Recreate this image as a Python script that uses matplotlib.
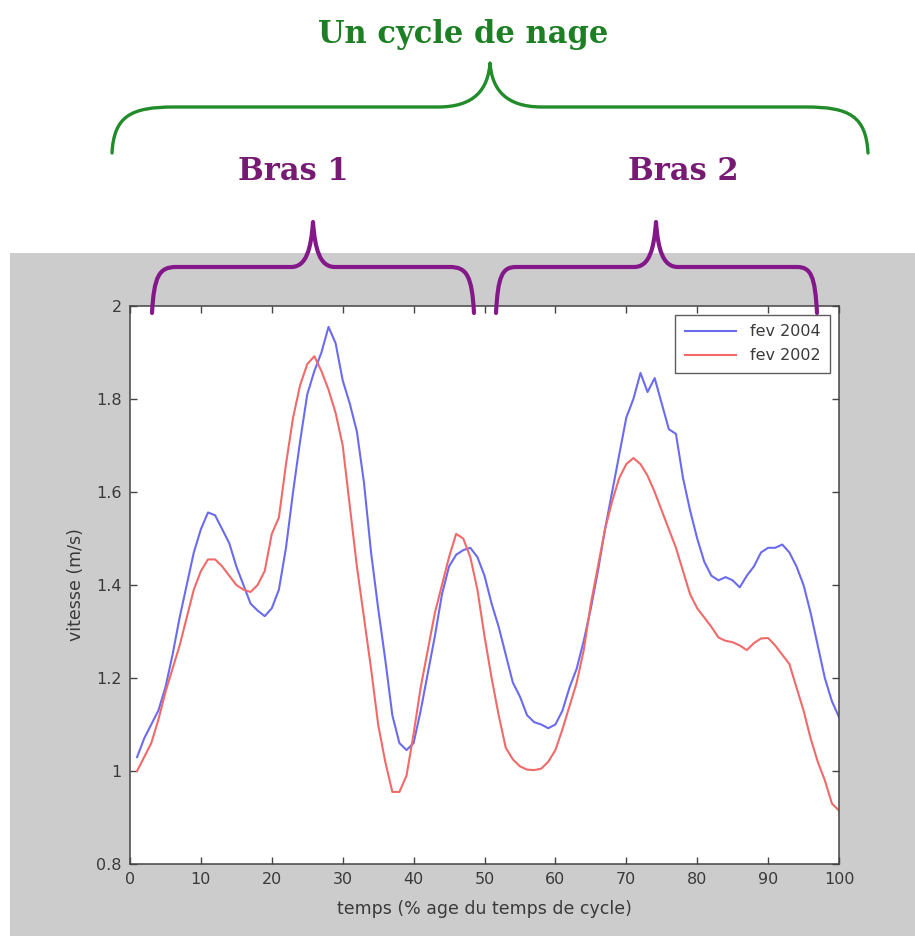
import numpy as np
import matplotlib
matplotlib.use("Agg")
import matplotlib.pyplot as plt
from matplotlib.path import Path
from matplotlib.patches import PathPatch, Rectangle

# Swim speed over one stroke cycle (% of cycle time)
t_2004 = list(range(1, 101))
v_2004 = [1.03, 1.07, 1.10, 1.13, 1.18, 1.25, 1.33, 1.40, 1.47, 1.52,
          1.556, 1.55, 1.52, 1.49, 1.44, 1.40, 1.36, 1.345, 1.333, 1.35,
          1.39, 1.48, 1.60, 1.71, 1.81, 1.86, 1.90, 1.955, 1.92, 1.84,
          1.79, 1.73, 1.62, 1.47, 1.35, 1.24, 1.12, 1.06, 1.045, 1.06,
          1.13, 1.21, 1.29, 1.38, 1.44, 1.465, 1.475, 1.48, 1.46, 1.42,
          1.36, 1.31, 1.25, 1.19, 1.16, 1.12, 1.105, 1.10, 1.092, 1.10,
          1.13, 1.18, 1.22, 1.28, 1.35, 1.43, 1.52, 1.60, 1.68, 1.76,
          1.80, 1.856, 1.815, 1.845, 1.79, 1.735, 1.725, 1.63, 1.56, 1.50,
          1.45, 1.42, 1.41, 1.417, 1.41, 1.395, 1.42, 1.44, 1.47, 1.48,
          1.48, 1.487, 1.47, 1.44, 1.40, 1.34, 1.27, 1.20, 1.15, 1.116]

t_2002 = list(range(1, 101))
v_2002 = [1.00, 1.03, 1.06, 1.11, 1.17, 1.22, 1.27, 1.33, 1.39, 1.43,
          1.455, 1.455, 1.44, 1.42, 1.40, 1.39, 1.385, 1.40, 1.43, 1.51,
          1.545, 1.66, 1.76, 1.83, 1.875, 1.892, 1.86, 1.82, 1.77, 1.70,
          1.57, 1.44, 1.33, 1.22, 1.10, 1.02, 0.955, 0.955, 0.99, 1.08,
          1.18, 1.26, 1.34, 1.40, 1.46, 1.51, 1.50, 1.46, 1.39, 1.29,
          1.20, 1.12, 1.05, 1.025, 1.01, 1.003, 1.002, 1.005, 1.02, 1.045,
          1.09, 1.14, 1.19, 1.26, 1.36, 1.44, 1.52, 1.58, 1.63, 1.66,
          1.673, 1.66, 1.635, 1.60, 1.56, 1.52, 1.48, 1.43, 1.38, 1.35,
          1.33, 1.31, 1.287, 1.28, 1.277, 1.27, 1.26, 1.275, 1.285, 1.286,
          1.27, 1.25, 1.23, 1.18, 1.13, 1.07, 1.02, 0.98, 0.93, 0.915]

series_labels = ["fev 2004", "fev 2002"]
x_ticks = [0, 10, 20, 30, 40, 50, 60, 70, 80, 90, 100]
y_ticks = [0.8, 1.0, 1.2, 1.4, 1.6, 1.8, 2.0]
y_ticklabels = ["0.8", "1", "1.2", "1.4", "1.6", "1.8", "2"]

GREEN = "#1d7f24"
PURPLE = "#761a74"
GREY_TXT = "#3a3a3a"

W, H = 915, 936
fig = plt.figure(figsize=(W / 100, H / 100), dpi=100)
fig.patch.set_facecolor("white")

# grey figure area behind the plot
fig.patches.append(Rectangle((10 / W, 0), 1 - 10 / W, 1 - 253 / H,
                             transform=fig.transFigure, facecolor="#cccccc",
                             edgecolor="none", zorder=-10))

ax = fig.add_axes([130 / W, 1 - 864 / H, 709 / W, 558 / H], zorder=1)
ax.set_facecolor("white")
ax.plot(t_2004, v_2004, color="#6b6bef", lw=1.5, label=series_labels[0])
ax.plot(t_2002, v_2002, color="#f06a6a", lw=1.5, label=series_labels[1])
ax.set_xlim(0, 100)
ax.set_ylim(0.8, 2.0)
ax.set_xticks(x_ticks)
ax.set_yticks(y_ticks)
ax.set_yticklabels(y_ticklabels)
ax.tick_params(direction="in", top=True, right=True, length=5, width=1,
               colors="#444444", labelcolor=GREY_TXT, labelsize=11.5, pad=6)
for s in ax.spines.values():
    s.set_color("#444444")
    s.set_linewidth(1.1)
ax.set_xlabel("temps (% age du temps de cycle)", fontsize=12.5, color=GREY_TXT, labelpad=9)
ax.set_ylabel("vitesse (m/s)", fontsize=12.5, color=GREY_TXT, labelpad=8)
leg = ax.legend(loc="upper right", fontsize=11.5, frameon=True, fancybox=False,
                borderpad=0.6, handlelength=3.2, handletextpad=0.9,
                labelspacing=0.55, borderaxespad=0.55)
leg.get_frame().set_edgecolor("#333333")
leg.get_frame().set_linewidth(1.0)
for txt in leg.get_texts():
    txt.set_color(GREY_TXT)

# overlay in pixel units for the braces and their titles
ov = fig.add_axes([0, 0, 1, 1], zorder=5)
ov.set_xlim(0, W)
ov.set_ylim(H, 0)
ov.axis("off")
ov.patch.set_alpha(0)


def brace(x0, x1, xm, y_end, y_h, y_tip, r_end, r_tip, color, lw):
    verts = [
        (x0, y_end),
        (x0 + 2, y_h + 0.2 * (y_end - y_h)), (x0 + r_end * 0.3, y_h), (x0 + r_end, y_h),
        (xm - r_tip, y_h),
        (xm - r_tip * 0.3, y_h), (xm - 2, y_h - 0.4 * (y_h - y_tip)), (xm, y_tip),
        (xm + 2, y_h - 0.4 * (y_h - y_tip)), (xm + r_tip * 0.3, y_h), (xm + r_tip, y_h),
        (x1 - r_end, y_h),
        (x1 - r_end * 0.3, y_h), (x1 - 2, y_h + 0.2 * (y_end - y_h)), (x1, y_end),
    ]
    codes = [Path.MOVETO,
             Path.CURVE4, Path.CURVE4, Path.CURVE4,
             Path.LINETO,
             Path.CURVE4, Path.CURVE4, Path.CURVE4,
             Path.CURVE4, Path.CURVE4, Path.CURVE4,
             Path.LINETO,
             Path.CURVE4, Path.CURVE4, Path.CURVE4]
    ov.add_patch(PathPatch(Path(verts, codes), facecolor="none", edgecolor=color,
                           lw=lw, capstyle="round", joinstyle="round"))


brace(112, 868, 490, 153, 107, 63, 62, 52, "#228b2a", 2.4)
brace(152, 474, 313, 313, 267, 222, 24, 22, "#84188a", 3.0)
brace(496, 817, 656, 313, 267, 222, 20, 22, "#84188a", 3.0)

title_font = dict(family="DejaVu Serif", weight="bold", fontsize=22)
ov.text(463, 43, "Un cycle de nage", color=GREEN, ha="center", va="baseline", **title_font)
ov.text(293, 180, "Bras 1", color=PURPLE, ha="center", va="baseline", **title_font)
ov.text(683, 180, "Bras 2", color=PURPLE, ha="center", va="baseline", **title_font)

fig.savefig("out.png", dpi=100)
